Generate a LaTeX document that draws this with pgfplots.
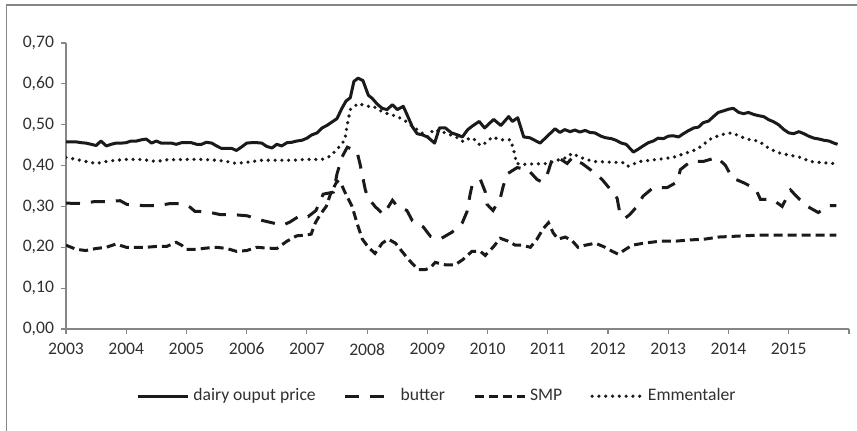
\documentclass[border=0pt]{standalone}
\usepackage{fontspec}
\setmainfont{Carlito}
\usepackage{pgfplots}
\pgfplotsset{compat=1.18}
\definecolor{axgray}{HTML}{868686}
\definecolor{txt}{HTML}{303030}
\definecolor{ln}{HTML}{1A1A1A}
\begin{document}
\begin{tikzpicture}[font=\fontsize{8.8}{10.5}\selectfont]
\useasboundingbox (0,0) rectangle (428.5pt,215.5pt);
\draw[axgray,line width=0.8pt] (3.25pt,-5pt) -- (3.25pt,213pt) -- (440pt,213pt);
\begin{axis}[
  at={(33pt,51pt)}, anchor=south west,
  scale only axis, width=391.5pt, height=143pt,
  xmin=2003, xmax=2016, ymin=0, ymax=0.7,
  axis x line*=bottom, axis y line*=left,
  axis line style={axgray,line width=0.6pt},
  every tick/.style={axgray,line width=0.6pt},
  tick align=outside, major tick length=2.5pt,
  xtick={2003,2004,...,2016},
  xticklabels={2003,2004,2005,2006,2007,2008,2009,2010,2011,2012,2013,2014,2015,{}},
  xticklabel style={yshift=-1pt},
  ytick={0,0.1,...,0.71},
  yticklabel style={/pgf/number format/.cd,fixed,fixed zerofill,precision=2,use comma,assume math mode=true},
  tick label style={txt},
  legend style={at={(axis description cs:0.475,-0.235)},anchor=center,draw=none,
     legend columns=4, /tikz/every even column/.append style={column sep=12pt},
     font=\fontsize{8.8}{10.5}\selectfont, text=txt, inner sep=0pt},
  legend image code/.code={\draw[#1] (0pt,0pt) -- (25pt,0pt);},
  every axis plot/.append style={line width=1.5pt, ln},
]
\addplot[solid, line join=round] coordinates {
(2003.00,0.458)(2003.08,0.458)(2003.17,0.458)(2003.25,0.456)(2003.33,0.455)(2003.42,0.452)(2003.50,0.449)(2003.58,0.460)(2003.67,0.448)(2003.75,0.452)(2003.83,0.455)(2003.92,0.455)
(2004.00,0.456)(2004.08,0.460)(2004.17,0.460)(2004.25,0.463)(2004.33,0.465)(2004.42,0.455)(2004.50,0.460)(2004.58,0.455)(2004.67,0.455)(2004.75,0.455)(2004.83,0.452)(2004.92,0.456)
(2005.00,0.456)(2005.08,0.456)(2005.17,0.452)(2005.25,0.452)(2005.33,0.457)(2005.42,0.455)(2005.50,0.448)(2005.58,0.442)(2005.67,0.442)(2005.75,0.442)(2005.83,0.437)(2005.92,0.446)
(2006.00,0.455)(2006.08,0.456)(2006.17,0.456)(2006.25,0.455)(2006.33,0.447)(2006.42,0.443)(2006.50,0.452)(2006.58,0.448)(2006.67,0.456)(2006.75,0.457)(2006.83,0.460)(2006.92,0.462)
(2007.00,0.467)(2007.08,0.475)(2007.17,0.480)(2007.25,0.492)(2007.33,0.498)(2007.42,0.507)(2007.50,0.515)(2007.58,0.540)(2007.65,0.558)(2007.72,0.566)(2007.78,0.606)(2007.85,0.614)(2007.93,0.608)
(2008.02,0.572)(2008.08,0.565)(2008.17,0.550)(2008.25,0.540)(2008.33,0.537)(2008.42,0.549)(2008.50,0.537)(2008.60,0.545)(2008.67,0.522)(2008.75,0.495)(2008.83,0.478)(2008.92,0.475)
(2009.00,0.470)(2009.12,0.455)(2009.20,0.492)(2009.30,0.492)(2009.40,0.480)(2009.50,0.475)(2009.58,0.470)(2009.67,0.488)(2009.75,0.497)(2009.86,0.508)(2009.95,0.492)
(2010.10,0.513)(2010.22,0.498)(2010.35,0.520)(2010.41,0.508)(2010.50,0.517)(2010.60,0.470)(2010.70,0.468)(2010.78,0.462)(2010.87,0.455)(2010.95,0.466)
(2011.02,0.476)(2011.12,0.490)(2011.20,0.481)(2011.28,0.488)(2011.37,0.483)(2011.45,0.487)(2011.53,0.482)(2011.62,0.486)(2011.70,0.481)(2011.78,0.480)(2011.88,0.472)(2011.96,0.468)
(2012.05,0.466)(2012.13,0.462)(2012.22,0.455)(2012.30,0.452)(2012.42,0.433)(2012.50,0.440)(2012.58,0.448)(2012.67,0.456)(2012.75,0.460)(2012.83,0.467)(2012.92,0.466)
(2013.00,0.472)(2013.08,0.473)(2013.17,0.470)(2013.25,0.478)(2013.33,0.485)(2013.42,0.492)(2013.50,0.494)(2013.58,0.505)(2013.67,0.509)(2013.75,0.520)(2013.83,0.530)(2013.92,0.534)
(2014.00,0.538)(2014.08,0.540)(2014.17,0.530)(2014.25,0.527)(2014.33,0.530)(2014.42,0.525)(2014.50,0.522)(2014.58,0.520)(2014.67,0.512)(2014.75,0.507)(2014.83,0.500)(2014.92,0.488)
(2015.00,0.480)(2015.08,0.478)(2015.17,0.483)(2015.25,0.478)(2015.33,0.472)(2015.42,0.467)(2015.50,0.465)(2015.58,0.462)(2015.67,0.460)(2015.75,0.455)(2015.81,0.452)
};
\addlegendentry{dairy ouput price}
\addplot[dash pattern=on 7pt off 5.5pt] coordinates {
(2003.00,0.308)(2003.27,0.307)(2003.48,0.312)(2003.68,0.312)(2003.90,0.314)(2004.01,0.305)(2004.28,0.302)(2004.53,0.302)(2004.73,0.307)(2004.94,0.307)
(2005.06,0.298)(2005.14,0.288)(2005.34,0.287)(2005.56,0.280)(2005.77,0.280)(2006.01,0.277)(2006.19,0.268)(2006.42,0.260)(2006.60,0.254)(2006.72,0.262)(2006.89,0.278)
(2007.02,0.275)(2007.15,0.290)(2007.27,0.330)(2007.44,0.335)(2007.50,0.380)(2007.58,0.420)(2007.67,0.445)(2007.83,0.435)(2007.88,0.405)(2007.93,0.370)(2007.97,0.340)
(2008.02,0.320)(2008.13,0.300)(2008.27,0.280)(2008.42,0.315)(2008.50,0.300)(2008.66,0.290)(2008.75,0.265)(2008.93,0.250)(2009.05,0.227)(2009.21,0.220)(2009.41,0.237)
(2009.58,0.260)(2009.66,0.288)(2009.71,0.330)(2009.74,0.350)(2009.88,0.366)(2009.96,0.336)(2009.99,0.305)(2010.09,0.290)(2010.21,0.320)(2010.26,0.350)(2010.33,0.380)
(2010.49,0.395)(2010.67,0.390)(2010.82,0.366)(2010.90,0.360)(2010.99,0.378)(2011.07,0.415)(2011.17,0.420)(2011.32,0.405)(2011.41,0.420)(2011.49,0.410)(2011.57,0.405)
(2011.75,0.385)(2011.90,0.366)(2011.99,0.350)(2012.05,0.340)(2012.15,0.320)(2012.20,0.280)(2012.29,0.272)(2012.36,0.280)(2012.48,0.300)(2012.58,0.325)(2012.75,0.346)
(2012.98,0.346)(2013.15,0.360)(2013.20,0.390)(2013.37,0.410)(2013.58,0.410)(2013.81,0.420)(2013.95,0.400)(2014.06,0.370)(2014.25,0.358)(2014.45,0.343)(2014.53,0.317)
(2014.73,0.317)(2014.89,0.300)(2015.03,0.340)(2015.16,0.320)(2015.31,0.300)(2015.49,0.285)(2015.66,0.302)(2015.79,0.302)
};
\addlegendentry{butter}
\addplot[dash pattern=on 4.5pt off 2.5pt] coordinates {
(2003.00,0.205)(2003.17,0.195)(2003.33,0.192)(2003.50,0.197)(2003.67,0.200)(2003.83,0.208)(2004.00,0.200)(2004.17,0.200)(2004.33,0.200)(2004.50,0.202)(2004.67,0.202)(2004.83,0.212)
(2004.92,0.205)(2005.00,0.195)(2005.17,0.195)(2005.33,0.198)(2005.50,0.200)(2005.67,0.197)(2005.83,0.190)(2006.00,0.192)(2006.17,0.200)(2006.33,0.198)(2006.50,0.197)(2006.67,0.215)
(2006.83,0.228)(2006.99,0.230)(2007.07,0.232)(2007.14,0.260)(2007.22,0.280)(2007.32,0.300)(2007.39,0.330)(2007.50,0.362)(2007.57,0.355)(2007.63,0.335)(2007.75,0.300)(2007.83,0.260)
(2007.92,0.220)(2008.02,0.200)(2008.13,0.185)(2008.25,0.210)(2008.35,0.220)(2008.47,0.210)(2008.55,0.195)(2008.66,0.175)(2008.75,0.160)(2008.85,0.145)(2008.96,0.145)(2009.05,0.150)
(2009.13,0.163)(2009.30,0.157)(2009.46,0.157)(2009.59,0.170)(2009.74,0.190)(2009.88,0.190)(2009.96,0.180)(2010.09,0.200)(2010.21,0.222)(2010.34,0.215)(2010.46,0.205)(2010.57,0.205)
(2010.71,0.200)(2010.82,0.220)(2010.92,0.245)(2011.01,0.260)(2011.09,0.235)(2011.17,0.220)(2011.29,0.225)(2011.41,0.215)(2011.50,0.200)(2011.62,0.205)(2011.79,0.210)(2011.95,0.200)
(2012.07,0.190)(2012.17,0.183)(2012.29,0.195)(2012.40,0.205)(2012.59,0.210)(2012.87,0.215)(2013.12,0.215)(2013.37,0.218)(2013.61,0.220)(2013.83,0.225)(2014.11,0.227)(2014.53,0.230)
(2015.79,0.230)
};
\addlegendentry{SMP}
\addplot[line width=1.8pt, line cap=round, dash pattern=on 0pt off 3.4pt] coordinates {
(2003.00,0.420)(2003.17,0.415)(2003.33,0.410)(2003.50,0.405)(2003.67,0.410)(2003.83,0.413)(2004.00,0.415)(2004.25,0.415)(2004.50,0.410)(2004.67,0.414)(2005.00,0.415)(2005.25,0.415)
(2005.50,0.413)(2005.67,0.410)(2005.83,0.405)(2006.00,0.408)(2006.25,0.413)(2006.50,0.413)(2006.75,0.413)(2007.00,0.415)(2007.25,0.415)(2007.39,0.423)(2007.52,0.443)(2007.63,0.463)
(2007.67,0.500)(2007.72,0.537)(2007.85,0.552)(2008.00,0.545)(2008.10,0.545)(2008.27,0.530)(2008.50,0.520)(2008.66,0.507)(2008.76,0.495)(2008.88,0.483)(2009.01,0.470)(2009.10,0.488)
(2009.30,0.480)(2009.50,0.468)(2009.60,0.458)(2009.71,0.468)(2009.79,0.463)(2009.88,0.449)(2009.96,0.455)(2010.08,0.470)(2010.21,0.463)(2010.38,0.463)(2010.43,0.440)(2010.48,0.405)
(2010.60,0.403)(2010.99,0.405)(2011.16,0.413)(2011.32,0.420)(2011.40,0.430)(2011.54,0.420)(2011.75,0.410)(2012.25,0.407)(2012.32,0.398)(2012.53,0.410)(2012.82,0.415)(2013.08,0.420)
(2013.28,0.430)(2013.48,0.440)(2013.62,0.456)(2013.73,0.468)(2013.95,0.478)(2014.06,0.480)(2014.21,0.470)(2014.36,0.463)(2014.50,0.460)(2014.69,0.440)(2014.86,0.430)(2015.03,0.425)
(2015.19,0.420)(2015.36,0.410)(2015.56,0.407)(2015.76,0.405)
};
\addlegendentry{Emmentaler}
\end{axis}
\end{tikzpicture}
\end{document}
